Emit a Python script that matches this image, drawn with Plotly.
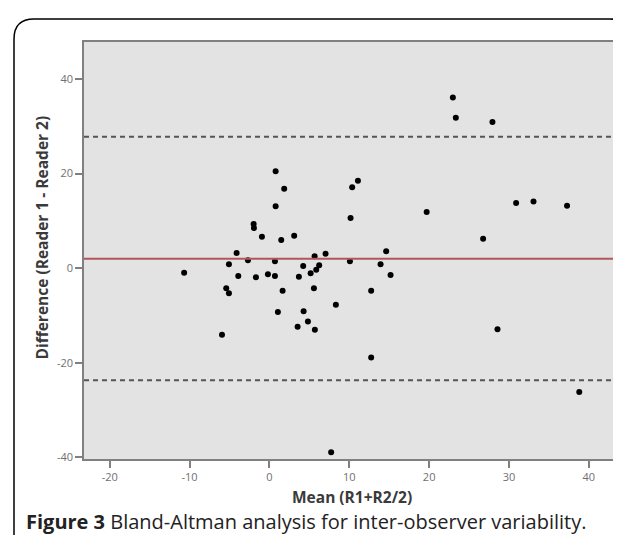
import plotly.graph_objects as go

# Bland-Altman data
mean_x = [0.78, 1.85, 0.78, 11.08, 10.36, 19.69, 10.16, -1.98, -1.94, -0.94,
          1.48, 3.10, -4.11, -5.07, -2.69, 0.69, -3.90, -1.69, -0.19, 0.69,
          -5.41, -5.07, 1.65, 1.06, -5.94, 3.53, 4.28, 4.82, 5.69, 4.23,
          3.69, 5.16, 5.57, 5.66, 6.23, 5.86, 7.03, 10.08, 8.32, 12.74,
          13.92, 14.62, 15.17, 12.74, 7.73, 22.97, 23.34, 27.93, 30.89, 33.07,
          37.27, 26.76, 28.56, 38.80, -10.68]
diff_y = [20.5, 16.8, 13.1, 18.5, 17.1, 11.9, 10.6, 9.35, 8.5, 6.66,
          5.96, 6.87, 3.21, 0.82, 1.67, 1.46, -1.65, -1.92, -1.29, -1.65,
          -4.25, -5.31, -4.76, -9.26, -14.1, -12.4, -9.11, -11.3, -13.0, 0.47,
          -1.80, -1.08, -4.25, 2.52, 0.61, -0.32, 3.07, 1.46, -7.72, -4.76,
          0.82, 3.57, -1.44, -18.9, -38.9, 36.1, 31.8, 30.9, 13.8, 14.1,
          13.2, 6.24, -12.9, -26.2, -0.97]
mean_diff = 2.0
upper_loa = 27.8
lower_loa = -23.7

x_ticks = [-20, -10, 0, 10, 20, 30, 40]
x_tick_labels = ["-20", "-10", "0", "10", "20", "30", "40"]
y_ticks = [-40, -20, 0, 20, 40]
y_tick_labels = ["-40", "-20", "0", "20", "40"]

W, H = 621, 535
ML, MR, MT, MB = 76, 13, 34, 84
PW, PH = W - ML - MR, H - MT - MB


def px(x):
    return (x - ML) / PW


def py(y):
    return (H - MB - y) / PH


fig = go.Figure()
fig.add_trace(go.Scatter(x=mean_x, y=diff_y, mode="markers",
                         marker=dict(color="black", size=6),
                         showlegend=False, hoverinfo="x+y"))

fig.add_hline(y=upper_loa, line=dict(color="#555555", width=2, dash="5px,4px"))
fig.add_hline(y=lower_loa, line=dict(color="#555555", width=2, dash="5px,4px"))
fig.add_hline(y=mean_diff, line=dict(color="#b2565c", width=2.2))

# outer rounded frame
xl, xr, yt, yb = px(6), px(622), py(11), py(560)
rx, ry = 20 / PW, 20 / PH
path = (f"M {xl},{yb} L {xl},{yt - ry} Q {xl},{yt} {xl + rx},{yt} "
        f"L {xr - rx},{yt} Q {xr},{yt} {xr},{yt - ry} L {xr},{yb}")
fig.add_shape(type="path", path=path, xref="paper", yref="paper",
              line=dict(color="black", width=1.5), layer="above")

axis_common = dict(showgrid=False, zeroline=False, ticks="outside", ticklen=7,
                   tickwidth=1.5, tickcolor="#808080", showline=True,
                   linecolor="#808080", linewidth=1.5, mirror=True,
                   tickfont=dict(family="Open Sans", size=11, color="#707070"))

fig.update_xaxes(range=[-23.22, 43.4], tickvals=x_ticks, ticktext=x_tick_labels,
                 **axis_common)
fig.update_yaxes(range=[-40.35, 47.83], tickvals=y_ticks, ticktext=y_tick_labels,
                 **axis_common)

fig.add_annotation(text="<b>Mean (R1+R2/2)</b>", xref="paper", yref="paper",
                   x=px(344), y=py(489), xanchor="center", yanchor="middle",
                   showarrow=False,
                   font=dict(family="Open Sans", size=15.5, color="#3a3a3a"))
fig.add_annotation(text="<b>Difference (Reader 1 - Reader 2)</b>", xref="paper",
                   yref="paper", x=px(33), y=py(229.5), textangle=-90,
                   xanchor="center", yanchor="middle", showarrow=False,
                   font=dict(family="Open Sans", size=15.5, color="#3a3a3a"))
fig.add_annotation(text="<b>Figure 3</b> Bland-Altman analysis for inter-observer variability.",
                   xref="paper", yref="paper", x=px(16), y=py(513),
                   xanchor="left", yanchor="middle", showarrow=False,
                   font=dict(family="Open Sans", size=20, color="#222222"))

fig.update_layout(width=W, height=H, margin=dict(l=ML, r=MR, t=MT, b=MB),
                  plot_bgcolor="#e3e3e3", paper_bgcolor="white")

fig.write_html("out.html")
